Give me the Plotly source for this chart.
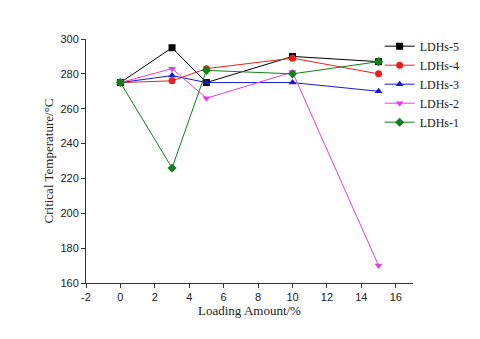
import plotly.graph_objects as go

# Loading amount (%)
loading = [0, 3, 5, 10, 15]

# Critical temperature (°C) per sample
ldhs5 = [275, 295, 275, 290, 287]
ldhs4 = [275, 276, 283, 289, 280]
ldhs3 = [275, 279, 275, 275, 270]
ldhs2 = [275, 283, 266, 281, 170]
ldhs1 = [275, 226, 282, 280, 287]

names = ['LDHs-5', 'LDHs-4', 'LDHs-3', 'LDHs-2', 'LDHs-1']
series = [ldhs5, ldhs4, ldhs3, ldhs2, ldhs1]
colors = ['#000000', '#e8201c', '#1a1acc', '#e040e0', '#11801a']
symbols = ['square', 'circle', 'triangle-up', 'triangle-down', 'diamond']

x_ticks = list(range(-2, 17, 2))
x_ticktext = ['-2'] + [str(v) for v in x_ticks[1:]]
y_ticks = list(range(160, 301, 20))

fig = go.Figure()
for name, vals, c, s in zip(names, series, colors, symbols):
    fig.add_trace(go.Scatter(
        x=loading, y=vals, name=name, mode='lines+markers',
        line=dict(color=c, width=1),
        marker=dict(color=c, symbol=s, size=7),
    ))

axis_common = dict(
    showline=True, linecolor='#333333', linewidth=1,
    ticks='outside', ticklen=4, tickcolor='#333333',
    showgrid=False, zeroline=False, automargin=False,
    tickfont=dict(family='Liberation Sans, Arial', size=11, color='#222222'),
)
title_font = dict(family='Liberation Serif, Times New Roman', size=13, color='#222222')

# page body adds an 8px offset, so the figure is sized to fit the window
fig.update_layout(
    width=472, height=331,
    margin=dict(l=78, r=67, t=31, b=56),
    plot_bgcolor='white', paper_bgcolor='white',
    xaxis=dict(range=[-2, 17], tickvals=x_ticks, ticktext=x_ticktext,
               title=dict(text='Loading Amount/%', font=title_font, standoff=3),
               **axis_common),
    yaxis=dict(range=[160, 300], tickvals=y_ticks,
               title=dict(text='Critical Temperature/°C', font=title_font, standoff=3),
               **axis_common),
    legend=dict(x=0.898, y=1.03, xanchor='left', yanchor='top', itemwidth=30,
                bgcolor='rgba(0,0,0,0)', tracegroupgap=0,
                font=dict(family='Liberation Serif, Times New Roman', size=12, color='#222222')),
    showlegend=True,
)

fig.write_html("out.html")
